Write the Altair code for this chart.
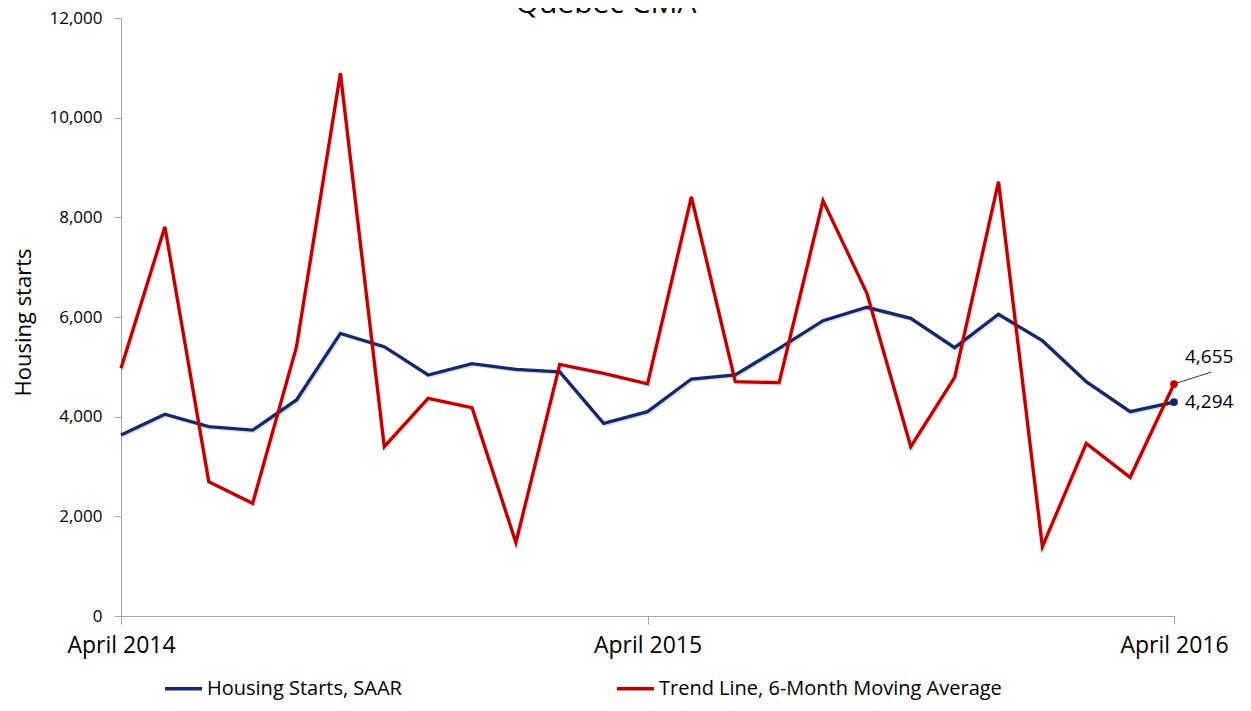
import altair as alt
import pandas as pd

months = list(range(25))
housing_starts = [3630, 4050, 3800, 3730, 4335, 5670, 5405, 4836, 5065, 4950, 4900, 3867, 4100,
                  4756, 4836, 5372, 5926, 6195, 5974, 5385, 6054, 5525, 4703, 4100, 4294]
trend_line = [4970, 7810, 2696, 2261, 5405, 10890, 3398, 4368, 4181, 1472, 5050, 4870, 4660,
              8410, 4703, 4683, 8335, 6476, 3398, 4789, 8716, 1391, 3465, 2783, 4655]
series_names = ["Housing Starts, SAAR", "Trend Line, 6-Month Moving Average"]
series_colors = ["#13296B", "#C00000"]
tick_months = [0, 12, 24]
tick_labels = ["April 2014", "April 2015", "April 2016"]
y_ticks = [0, 2000, 4000, 6000, 8000, 10000, 12000]
title_text = "Quebec CMA"

FONT = "Open Sans"

rows = []
for m, v in zip(months, housing_starts):
    rows.append({"month": m, "value": v, "series": series_names[0]})
for m, v in zip(months, trend_line):
    rows.append({"month": m, "value": v, "series": series_names[1]})
df = pd.DataFrame(rows)

last = df[df["month"] == months[-1]].copy()
last["label"] = last["value"].map(lambda v: f"{v:,}")

label_expr = " : ".join(
    f"datum.value == {m} ? '{t}'" for m, t in zip(tick_months, tick_labels)
) + " : ''"

W, H = 1053, 598

x_enc = alt.X(
    "month:Q",
    scale=alt.Scale(domain=[months[0], months[-1]], nice=False, zero=False),
    axis=alt.Axis(
        values=tick_months, labelExpr=label_expr, title=None, grid=False,
        domainColor="#A6A6A6", tickColor="#A6A6A6", tickSize=8,
        labelFont=FONT, labelFontSize=23, labelColor="#000000", labelPadding=10,
        labelFlush=False, labelOverlap=False,
    ),
)
y_enc = alt.Y(
    "value:Q",
    scale=alt.Scale(domain=[0, 12000], nice=False),
    axis=alt.Axis(
        values=y_ticks, format=",d", title="Housing starts", grid=False,
        domainColor="#A6A6A6", tickColor="#A6A6A6", tickSize=7,
        labelFont=FONT, labelFontSize=17, labelColor="#000000", labelPadding=12,
        titleFont=FONT, titleFontSize=22, titleFontWeight="normal", titleColor="#000000",
        titleX=-86, titleY=304, titleAngle=270, titleBaseline="bottom", titleAlign="center",
    ),
)
color_enc = alt.Color(
    "series:N",
    scale=alt.Scale(domain=series_names, range=series_colors),
    legend=alt.Legend(
        title=None, orient="none", direction="horizontal", legendX=42, legendY=650,
        symbolType="stroke", symbolSize=1369, symbolStrokeWidth=3.5, labelOffset=3,
        labelFont=FONT, labelFontSize=20, labelColor="#000000", columnPadding=208,
        labelLimit=1000,
    ),
)

shadow = alt.Chart(df).mark_line(strokeWidth=3.3, opacity=0.18, color="#555555").encode(
    x=x_enc, y=y_enc, detail="series:N",
    xOffset=alt.value(1.5), yOffset=alt.value(1.5),
)
lines = alt.Chart(df).mark_line(strokeWidth=3.3).encode(x=x_enc, y=y_enc, color=color_enc)

points = alt.Chart(last).mark_point(filled=True, size=60, opacity=1).encode(
    x=alt.X("month:Q"), y=alt.Y("value:Q"),
    color=alt.Color("series:N", scale=alt.Scale(domain=series_names, range=series_colors), legend=None),
)

leader_df = last[last["series"] == series_names[1]].copy()
leader = alt.Chart(leader_df).mark_rule(color="#000000", strokeWidth=0.8).transform_calculate(
    x2="datum.month + 0.85", y2="datum.value + 240"
).encode(x="month:Q", y="value:Q", x2="x2:Q", y2="y2:Q")

label_top = alt.Chart(leader_df).mark_text(
    align="left", baseline="middle", dx=11, dy=-27, font=FONT, fontSize=19, color="#000000"
).encode(x="month:Q", y="value:Q", text="label:N")
blue_df = last[last["series"] == series_names[0]].copy()
label_bottom = alt.Chart(blue_df).mark_text(
    align="left", baseline="middle", dx=11, dy=0, font=FONT, fontSize=19, color="#000000"
).encode(x="month:Q", y="value:Q", text="label:N")

title_df = pd.DataFrame({"t": [title_text]})
title = alt.Chart(title_df).mark_text(
    align="center", baseline="alphabetic", font=FONT, fontSize=30, color="#000000"
).encode(x=alt.value(485), y=alt.value(-5), text="t:N")

chart = alt.layer(shadow, lines, leader, points, label_top, label_bottom, title).properties(
    width=W, height=H,
    autosize=alt.AutoSizeParams(type="none"),
    padding={"left": 113, "top": 10, "right": 62, "bottom": 85},
).configure(background="#FFFFFF").configure_view(strokeWidth=0)

chart.save("out.html", embed_options={"renderer": "svg", "actions": False})
